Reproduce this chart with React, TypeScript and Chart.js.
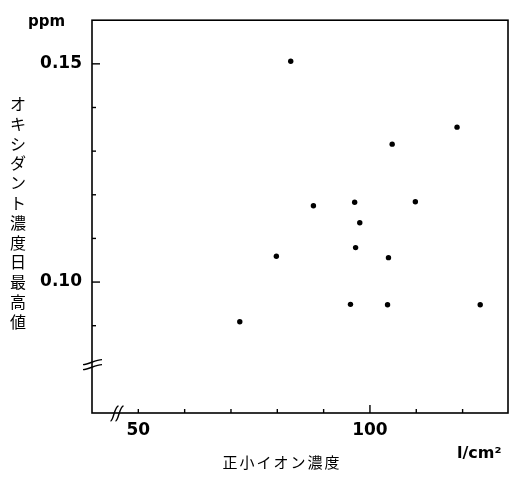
import { useEffect, useRef } from 'react';
import { Chart, registerables } from 'chart.js';

Chart.register(...registerables);

// ---- data ----
const ionConcentration = [82.9, 118.8, 104.8, 87.8, 96.7, 109.8, 97.8, 96.9, 79.8, 104.0, 95.8, 103.8, 123.8, 71.9];
const oxidantMax = [0.1506, 0.1355, 0.1316, 0.1175, 0.1183, 0.1184, 0.1136, 0.1079, 0.1059, 0.1056, 0.0949, 0.0948, 0.0948, 0.0909];

const yTickValues = [0.09, 0.1, 0.11, 0.12, 0.13, 0.14, 0.15];
const yLabelledTicks = [0.1, 0.15];
const xTickValues = [50, 60, 70, 80, 90, 100, 110, 120];
const xLabelledTicks = [50, 100];

const yTitle = 'オキシダント濃度日最高値';
const xTitle = '正小イオン濃度';
const xUnit = 'l/cm²';
const yUnit = 'ppm';

const yMin = 0.07;
const yMax = 0.16;
const xMin = 40;
const xMax = 129.8;
const yBreakValue = 0.0812;
const xBreakValue = 45.4;

const isIn = (arr: number[], v: number) => arr.some((a) => Math.abs(a - v) < 1e-9);

const decorPlugin = {
  id: 'decor',
  afterDraw(chart: any) {
    const ctx = chart.ctx as CanvasRenderingContext2D;
    const { left, right, top, bottom } = chart.chartArea;
    const xs = chart.scales.x;
    const ys = chart.scales.y;
    ctx.save();
    ctx.strokeStyle = '#000';
    ctx.fillStyle = '#000';
    ctx.lineWidth = 1.6;
    // frame
    ctx.strokeRect(left, top, right - left, bottom - top);
    // inward ticks
    ctx.lineWidth = 1.4;
    ys.ticks.forEach((t: any) => {
      const p = ys.getPixelForValue(t.value);
      const len = isIn(yLabelledTicks, t.value) ? 8 : 4;
      ctx.beginPath();
      ctx.moveTo(left, p);
      ctx.lineTo(left + len, p);
      ctx.stroke();
    });
    xs.ticks.forEach((t: any) => {
      const p = xs.getPixelForValue(t.value);
      const len = t.value === 100 ? 8 : 4;
      ctx.beginPath();
      ctx.moveTo(p, bottom);
      ctx.lineTo(p, bottom - len);
      ctx.stroke();
    });
    // axis breaks
    const yb = ys.getPixelForValue(yBreakValue);
    [-2.5, 2.5].forEach((d) => {
      ctx.beginPath();
      ctx.moveTo(left - 9, yb + d + 3);
      ctx.bezierCurveTo(left - 3, yb + d + 3, left + 3, yb + d - 2, left + 10, yb + d - 2);
      ctx.stroke();
    });
    const xb = xs.getPixelForValue(xBreakValue);
    [-2.5, 2.5].forEach((d) => {
      ctx.beginPath();
      ctx.moveTo(xb + d - 4, bottom + 8);
      ctx.bezierCurveTo(xb + d - 1, bottom + 8, xb + d + 0, bottom - 7, xb + d + 4, bottom - 7);
      ctx.stroke();
    });
    // unit labels
    ctx.font = 'bold 15px "DejaVu Sans"';
    ctx.textBaseline = 'middle';
    ctx.textAlign = 'left';
    ctx.fillText(yUnit, 28, 22);
    ctx.font = 'bold 16px "DejaVu Sans"';
    ctx.fillText(xUnit, 457, 454);
    // y title, upright stacked characters
    ctx.font = '16px "Noto Sans CJK JP"';
    ctx.textAlign = 'center';
    const chars = Array.from(yTitle);
    chars.forEach((c, i) => {
      ctx.fillText(c, 18, 104 + i * 19.8);
    });
    // x title
    ctx.font = '15px "Noto Sans CJK JP"';
    Array.from(xTitle).forEach((c, i) => {
      ctx.fillText(c, 230 + i * 17, 462);
    });
    ctx.restore();
  },
};

export default function App() {
  const ref = useRef<HTMLCanvasElement | null>(null);
  useEffect(() => {
    document.body.style.margin = '0';
    const canvas = ref.current;
    if (!canvas) return;
    const tickFont = { family: '"DejaVu Sans"', size: 17, weight: 'bold' as const };
    const chart = new Chart(canvas, {
      type: 'scatter',
      data: {
        datasets: [
          {
            data: ionConcentration.map((x, i) => ({ x, y: oxidantMax[i] })),
            backgroundColor: '#000',
            borderWidth: 0,
            pointRadius: 2.7,
          },
        ],
      },
      options: {
        responsive: false,
        animation: false,
        layout: { padding: { top: 14, right: 5, left: 0, bottom: 0 } },
        plugins: { legend: { display: false }, tooltip: { enabled: false } },
        scales: {
          x: {
            type: 'linear',
            min: xMin,
            max: xMax,
            afterBuildTicks: (s: any) => {
              s.ticks = xTickValues.map((v) => ({ value: v }));
            },
            afterFit: (s: any) => {
              s.height = 64;
            },
            grid: { display: false, drawTicks: false },
            border: { display: false },
            ticks: {
              autoSkip: false,
              maxRotation: 0,
              padding: 7,
              color: '#000',
              font: tickFont,
              callback: (v: any) => (isIn(xLabelledTicks, Number(v)) ? String(v) : ''),
            },
          },
          y: {
            type: 'linear',
            min: yMin,
            max: yMax,
            afterBuildTicks: (s: any) => {
              s.ticks = yTickValues.map((v) => ({ value: v }));
            },
            afterFit: (s: any) => {
              s.width = 92;
            },
            grid: { display: false, drawTicks: false },
            border: { display: false },
            ticks: {
              autoSkip: false,
              padding: 10,
              color: '#000',
              font: tickFont,
              callback: (v: any) => (isIn(yLabelledTicks, Number(v)) ? Number(v).toFixed(2) : ''),
            },
          },
        },
      },
      plugins: [decorPlugin],
    });
    return () => chart.destroy();
  }, []);
  return (
    <div style={{ width: 513, height: 477 }}>
      <canvas ref={ref} width={513} height={477} />
    </div>
  );
}
